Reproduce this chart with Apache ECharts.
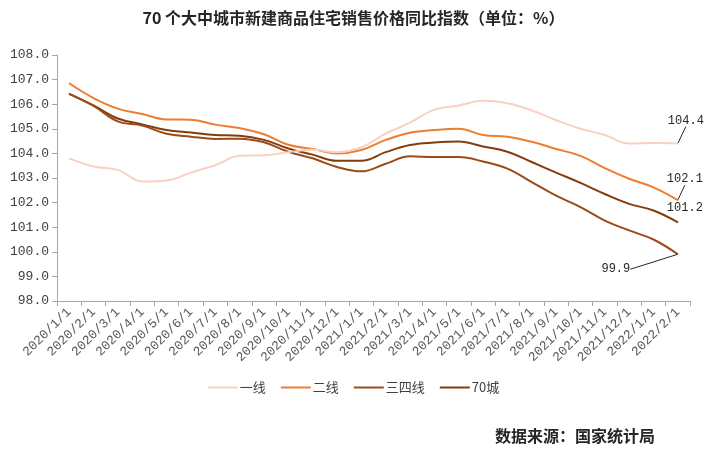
<!DOCTYPE html>
<html>
<head>
<meta charset="utf-8">
<script src="https://cdn.jsdelivr.net/npm/echarts@6/dist/echarts.min.js"></script>
<style>
html,body{margin:0;padding:0;background:#fff;}
#c{width:707px;height:451px;}
</style>
</head>
<body>
<div id="c"></div>
<script>
const categories = ['2020/1/1','2020/2/1','2020/3/1','2020/4/1','2020/5/1','2020/6/1','2020/7/1','2020/8/1','2020/9/1','2020/10/1','2020/11/1','2020/12/1','2021/1/1','2021/2/1','2021/3/1','2021/4/1','2021/5/1','2021/6/1','2021/7/1','2021/8/1','2021/9/1','2021/10/1','2021/11/1','2021/12/1','2022/1/1','2022/2/1'];
const tier1 = [103.8,103.47,103.33,102.86,102.9,103.22,103.52,103.9,103.92,104.05,104.15,104.05,104.25,104.8,105.25,105.78,105.95,106.14,106.04,105.75,105.35,105.0,104.75,104.4,104.42,104.4];
const tier2 = [106.85,106.25,105.82,105.6,105.38,105.37,105.17,105.03,104.78,104.35,104.18,104.0,104.14,104.55,104.84,104.95,105.0,104.75,104.68,104.47,104.18,103.9,103.4,102.97,102.62,102.1];
const tier34 = [106.42,105.93,105.3,105.13,104.8,104.68,104.59,104.6,104.45,104.07,103.8,103.45,103.27,103.58,103.88,103.85,103.85,103.67,103.38,102.83,102.28,101.82,101.27,100.87,100.5,99.9];
const city70 = [106.42,105.95,105.42,105.18,104.95,104.85,104.75,104.72,104.55,104.2,103.95,103.7,103.7,104.05,104.34,104.44,104.48,104.28,104.07,103.65,103.22,102.8,102.35,101.95,101.68,101.2];
const seriesNames = ['一线','二线','三四线','70城'];
const endLabels = ['104.4','102.1','99.9','101.2'];

const colors = ['#F9D0C2','#ED7D31','#9C4A1A','#843C0C'];
const labelOffsets = [[8,-23],[7,-21],[-62,15],[7,-14]];
const showLeader = [true,true,true,false];
const monoFont = '"Liberation Mono","DejaVu Sans Mono",monospace';

function makeSeries(idx, values){
  const last = values.length - 1;
  return {
    name: seriesNames[idx],
    type: 'line',
    smooth: 0.4,
    showSymbol: true,
    symbol: 'circle',
    symbolSize: 1,
    z: 10 - idx,
    lineStyle: {width: 2, color: colors[idx]},
    itemStyle: {color: colors[idx]},
    emphasis: {disabled: true},
    data: values.map((v,i) => i === last ? {
      value: v,
      label: {
        show: true,
        formatter: endLabels[idx],
        position: 'inside',
        fontFamily: monoFont,
        fontSize: 12,
        color: '#262626'
      }
    } : v),
    labelLine: {show: showLeader[idx], lineStyle: {color: '#262626', width: 1}, length2: 0},
    labelLayout: function(p){
      return {dx: labelOffsets[idx][0], dy: labelOffsets[idx][1]};
    }
  };
}

const chart = echarts.init(document.getElementById('c'));
chart.setOption({
  animation: false,
  backgroundColor: '#fff',
  title: {
    text: '70 个大中城市新建商品住宅销售价格同比指数（单位：%）',
    left: 'center',
    top: 5,
    textStyle: {fontSize: 16, fontWeight: 'bold', color: '#262626', fontFamily: '"Noto Sans CJK SC", sans-serif'}
  },
  graphic: [{
    type: 'text',
    right: 52,
    top: 428,
    style: {text: '数据来源：国家统计局', fontSize: 16, fontWeight: 'bold', fill: '#262626', fontFamily: '"Noto Sans CJK SC", sans-serif'}
  }],
  legend: {
    data: seriesNames,
    top: 376,
    left: 'center',
    icon: 'rect',
    itemWidth: 30,
    itemHeight: 2,
    itemGap: 15,
    textStyle: {fontSize: 13, color: '#404040', padding: [0,0,0,-3], fontFamily: '"Noto Sans CJK SC", sans-serif'}
  },
  grid: {left: 57, right: 17, top: 55, bottom: 150, containLabel: false},
  xAxis: {
    type: 'category',
    data: categories,
    boundaryGap: true,
    axisLine: {lineStyle: {color: '#A6A6A6'}},
    axisTick: {show: true, length: 5, lineStyle: {color: '#A6A6A6'}, interval: 0},
    axisLabel: {rotate: 45, interval: 0, fontSize: 13, color: '#595959', fontFamily: monoFont, margin: 9}
  },
  yAxis: {
    type: 'value',
    min: 98, max: 108, interval: 1,
    axisLine: {show: true, lineStyle: {color: '#A6A6A6'}},
    axisTick: {show: true, length: 5, lineStyle: {color: '#A6A6A6'}},
    splitLine: {show: false},
    axisLabel: {formatter: v => v.toFixed(1), fontSize: 13, color: '#404040', fontFamily: monoFont, margin: 8}
  },
  series: [
    makeSeries(0, tier1),
    makeSeries(1, tier2),
    makeSeries(2, tier34),
    makeSeries(3, city70)
  ]
});
</script>
</body>
</html>
